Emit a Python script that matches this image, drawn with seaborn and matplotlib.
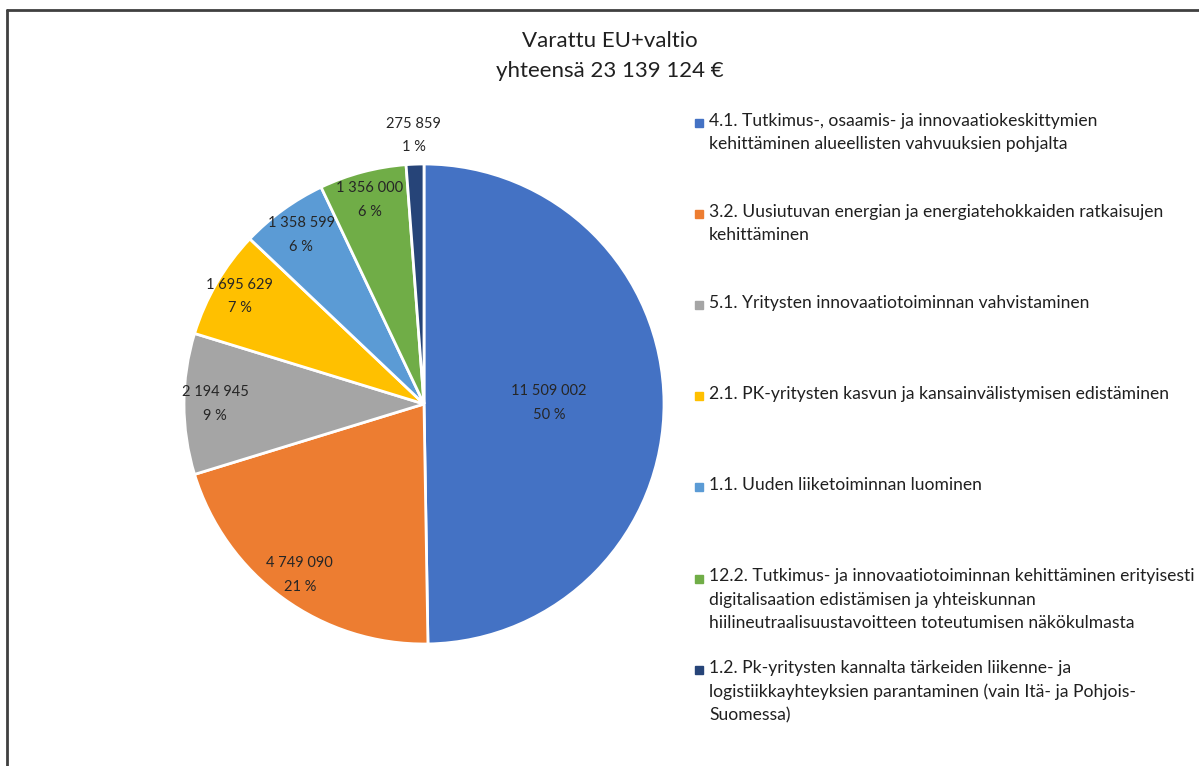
"""Varattu EU+valtio -piirakkakaavio."""

import numpy as np
import matplotlib
matplotlib.use('Agg')
import matplotlib.pyplot as plt
from matplotlib.lines import Line2D
from matplotlib.patches import Rectangle
import seaborn as sns

# Data
categories = [
    '4.1. Tutkimus-, osaamis- ja innovaatiokeskittymien\nkehittäminen alueellisten vahvuuksien pohjalta',
    '3.2. Uusiutuvan energian ja energiatehokkaiden ratkaisujen\nkehittäminen',
    '5.1. Yritysten innovaatiotoiminnan vahvistaminen',
    '2.1. PK-yritysten kasvun ja kansainvälistymisen edistäminen',
    '1.1. Uuden liiketoiminnan luominen',
    '12.2. Tutkimus- ja innovaatiotoiminnan kehittäminen erityisesti\ndigitalisaation edistämisen ja yhteiskunnan\nhiilineutraalisuustavoitteen toteutumisen näkökulmasta',
    '1.2. Pk-yritysten kannalta tärkeiden liikenne- ja\nlogistiikkayhteyksien parantaminen (vain Itä- ja Pohjois-\nSuomessa)',
]
values = [11509002, 4749090, 2194945, 1695629, 1358599, 1356000, 275859]
colors = ['#4472C4', '#ED7D31', '#A5A5A5', '#FFC000', '#5B9BD5', '#70AD47', '#264478']

# radial position of each data label (fraction of radius)
label_r = [0.52, 0.88, 0.87, 0.89, 0.87, 0.88, 1.12]

sns.set_theme(style='white')
plt.rcParams['font.family'] = ['Lato', 'DejaVu Sans']

W, H = 1199, 766
fig = plt.figure(figsize=(W / 100, H / 100), dpi=100)

# pie axes: centre (424, 404) px, radius 240 px
cx, cy, r = 424, 404, 240
ax = fig.add_axes([(cx - r) / W, (H - cy - r) / H, 2 * r / W, 2 * r / H])

palette = sns.color_palette(colors)
wedges, _ = ax.pie(values, colors=palette, startangle=90, counterclock=False,
                   wedgeprops=dict(edgecolor='white', linewidth=2), radius=1)
ax.set_xlim(-1, 1)
ax.set_ylim(-1, 1)
ax.set_aspect('equal')
ax.axis('off')

total = sum(values)
for w, v, lr in zip(wedges, values, label_r):
    ang = np.deg2rad((w.theta1 + w.theta2) / 2)
    txt = f'{v:,}'.replace(',', ' ') + f'\n{round(100 * v / total)} %'
    ax.text(lr * np.cos(ang), lr * np.sin(ang), txt, ha='center', va='center',
            fontsize=10.5, color='#262626', linespacing=1.85)

# title
fig.text(610 / W, 1 - 56 / H, 'Varattu EU+valtio\nyhteensä 23 139 124 €',
         ha='center', va='center', fontsize=16, color='#202020', linespacing=1.6)

# legend, entries evenly distributed as in the original
leg_top, leg_step = 123, 91.1
for i, (lab, c) in enumerate(zip(categories, palette)):
    y = leg_top + i * leg_step
    fig.add_artist(Rectangle(((695) / W, 1 - (y + 4) / H), 8 / W, 8 / H,
                             transform=fig.transFigure, color=c))
    fig.text(709 / W, 1 - (y - 10) / H, lab, ha='left', va='top',
             fontsize=12.6, color='#202020', linespacing=1.55)

# chart frame (cropped on right and bottom)
fig.add_artist(Line2D([7 / W, 7 / W], [0, 1 - 10 / H], transform=fig.transFigure,
                      color='#404040', linewidth=2))
fig.add_artist(Line2D([7 / W, 1], [1 - 10 / H, 1 - 10 / H], transform=fig.transFigure,
                      color='#404040', linewidth=2))

fig.savefig('out.png', dpi=100)
